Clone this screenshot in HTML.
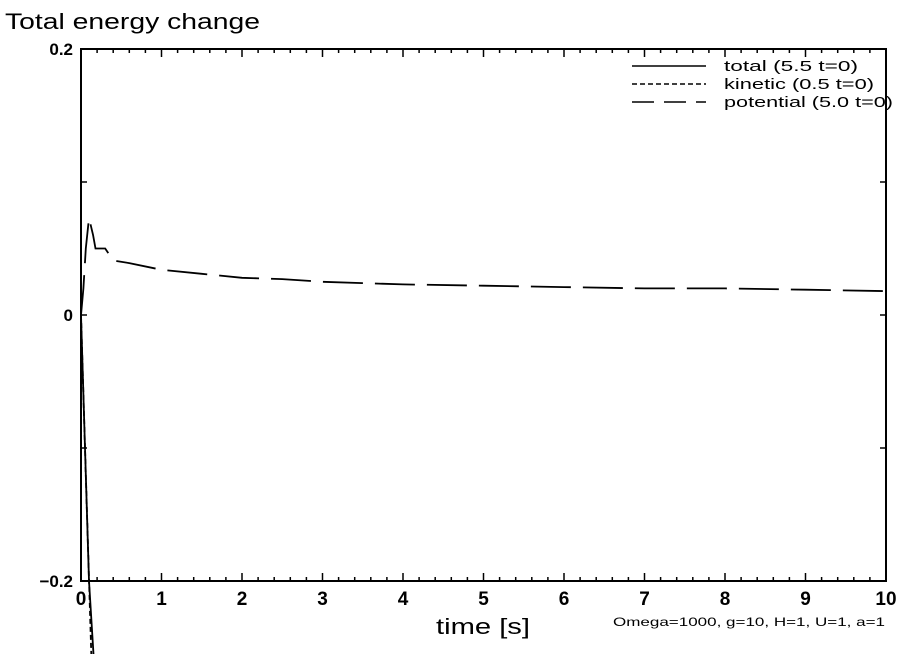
<!DOCTYPE html>
<html><head><meta charset="utf-8"><style>
html,body{margin:0;padding:0;background:#fff;}
svg{display:block;font-family:"Liberation Sans",sans-serif;}
</style></head><body>
<svg id="chart" width="904" height="654" viewBox="0 0 904 654" xmlns="http://www.w3.org/2000/svg">
<rect width="904" height="654" fill="#fff"/>
<text x="5" y="29" font-size="22" textLength="255" lengthAdjust="spacingAndGlyphs">Total energy change</text>
<g id="axes"></g>
<g id="series"></g>
<g>
  <line x1="632" y1="66" x2="706" y2="66" stroke="#000" stroke-width="1.5"/>
  <text x="724" y="71" font-size="15" textLength="134" lengthAdjust="spacingAndGlyphs">total (5.5 t=0)</text>
  <line x1="632" y1="84" x2="706" y2="84" stroke="#000" stroke-width="1.5" stroke-dasharray="5,3"/>
  <text x="724" y="89" font-size="15" textLength="150" lengthAdjust="spacingAndGlyphs">kinetic (0.5 t=0)</text>
  <line x1="632" y1="102" x2="706" y2="102" stroke="#000" stroke-width="1.5" stroke-dasharray="22,10"/>
  <text x="724" y="107" font-size="15" textLength="169" lengthAdjust="spacingAndGlyphs">potential (5.0 t=0)</text>
</g>
<text x="436" y="634" font-size="22" textLength="94" lengthAdjust="spacingAndGlyphs">time [s]</text>
<text x="613" y="626" font-size="12" textLength="272" lengthAdjust="spacingAndGlyphs">Omega=1000, g=10, H=1, U=1, a=1</text>
</svg>
<script>
const xTicks=[0,1,2,3,4,5,6,7,8,9,10];
const yTicks=[0.2,0,-0.2];
const potT=[0,0.03,0.06,0.1,0.15,0.18,0.3,0.4,0.6,1,1.5,2,2.5,3,4,5,6,7,8,9,10];
const potV=[0,0.02,0.05,0.073,0.06,0.05,0.05,0.041,0.039,0.034,0.031,0.028,0.027,0.025,0.023,0.022,0.021,0.020,0.020,0.019,0.018];
const totT=[0,0.05,0.1,0.16];
const totV=[0,-0.1,-0.2,-0.26];
const kinT=[0,0.06,0.13];
const kinV=[0,-0.12,-0.26];
const L=81,R=886,T=49,B=581;
const xs=t=>L+(t-0)/10*(R-L);
const ys=v=>T+(0.2-v)/0.4*(B-T);
const NS="http://www.w3.org/2000/svg";
const ax=document.getElementById('axes'),se=document.getElementById('series');
function mk(tag,attrs,parent){const e=document.createElementNS(NS,tag);for(const k in attrs)e.setAttribute(k,attrs[k]);parent.appendChild(e);return e;}
const frame=mk('rect',{x:L,y:T,width:R-L,height:B-T,fill:'none',stroke:'#000','stroke-width':2},ax);


for(let i=0;i<=50;i++){const t=i*0.2;const x=xs(t);const len=(i%5===0)?8:4;
 const a=mk('line',{x1:x,y1:B,x2:x,y2:B-len,stroke:'#000','stroke-width':1.5},ax);
 
 
 const b=mk('line',{x1:x,y1:T,x2:x,y2:T+len,stroke:'#000','stroke-width':1.5},ax);
 
 }
xTicks.forEach(t=>{const e=mk('text',{x:xs(t),y:B+24,'font-size':19,'font-weight':'bold','text-anchor':'middle'},ax);e.textContent=String(t);
 
 });
[-0.2,-0.1,0,0.1,0.2].forEach(v=>{const y=ys(v);
 const a=mk('line',{x1:L,y1:y,x2:L+6,y2:y,stroke:'#000','stroke-width':1.5},ax);
 
 
 const b=mk('line',{x1:R,y1:y,x2:R-6,y2:y,stroke:'#000','stroke-width':1.5},ax);
 
 });
yTicks.forEach(v=>{const e=mk('text',{x:L-8,y:ys(v)+6,'font-size':17,'font-weight':'bold','text-anchor':'end'},ax);e.textContent=(v===0?'0':String(v)).replace('-','\u2212');
 
 });
function line(T_,V_,dash,name){const d=T_.map((t,i)=>(i?'L':'M')+xs(t).toFixed(1)+','+ys(V_[i]).toFixed(1)).join(' ');
 const p=mk('path',{d:d,fill:'none',stroke:'#000','stroke-width':1.8},se);if(dash)p.setAttribute('stroke-dasharray',dash);
 
 }
line(totT,totV,null,'total-line');
line(kinT,kinV,'5,3','kinetic-line');
line(potT,potV,'40,12','potential-line');
</script>
</body></html>
